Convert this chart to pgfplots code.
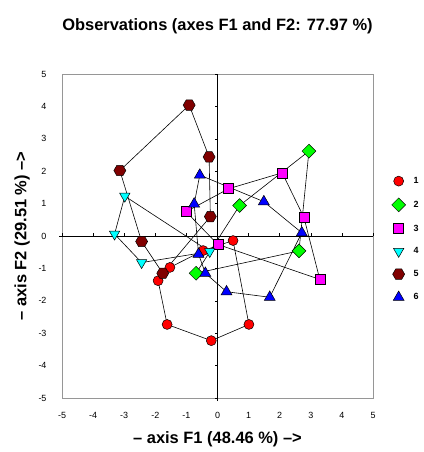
\documentclass[border=0pt]{standalone}
\usepackage{fontspec}
\setmainfont{Liberation Sans}
\usepackage{pgfplots}
\usepackage{pgfplotstable}
\pgfplotsset{compat=1.18}
\usetikzlibrary{plotmarks}

% filled hexagon with flat top and bottom
\pgfdeclareplotmark{hexagon*}{%
  \pgfpathmoveto{\pgfqpointpolar{0}{\pgfplotmarksize}}%
  \pgfpathlineto{\pgfqpointpolar{60}{\pgfplotmarksize}}%
  \pgfpathlineto{\pgfqpointpolar{120}{\pgfplotmarksize}}%
  \pgfpathlineto{\pgfqpointpolar{180}{\pgfplotmarksize}}%
  \pgfpathlineto{\pgfqpointpolar{240}{\pgfplotmarksize}}%
  \pgfpathlineto{\pgfqpointpolar{300}{\pgfplotmarksize}}%
  \pgfpathclose\pgfusepathqfillstroke}

\definecolor{gA}{RGB}{255,0,0}
\definecolor{gB}{RGB}{0,255,0}
\definecolor{gC}{RGB}{255,0,255}
\definecolor{gD}{RGB}{0,255,255}
\definecolor{gE}{RGB}{128,0,0}
\definecolor{gF}{RGB}{0,0,255}
\definecolor{framegray}{RGB}{150,150,150}

% observations of each class, listed along the convex hull
\pgfplotstableread{
x y
-0.46 -0.45
0.50 -0.14
1.01 -2.73
-0.20 -3.23
-1.62 -2.73
-1.91 -1.38
-1.53 -0.97
}\grpA
\pgfplotstableread{
x y
0.71 0.94
2.94 2.62
2.62 -0.46
-0.69 -1.15
}\grpB
\pgfplotstableread{
x y
-1.01 0.75
0.36 1.46
2.08 1.95
2.78 0.57
3.29 -1.34
0.01 -0.26
}\grpC
\pgfplotstableread{
x y
-2.98 1.23
-0.25 -0.48
-2.44 -0.82
-3.31 0.06
}\grpD
\pgfplotstableread{
x y
-0.91 4.04
-0.27 2.44
-0.23 0.60
-1.76 -1.15
-2.44 -0.17
-3.14 2.02
}\grpE
\pgfplotstableread{
x y
-0.57 1.88
1.49 1.06
2.71 0.10
1.68 -1.89
0.29 -1.72
-0.39 -1.15
-0.61 -0.56
-0.75 0.99
}\grpF

\begin{document}
\begin{tikzpicture}
\path[use as bounding box] (0,0) rectangle (424bp,452bp);
\begin{axis}[
  at={(62bp,54bp)}, anchor=south west,
  width=311bp, height=324bp, scale only axis,
  xmin=-5, xmax=5, ymin=-5, ymax=5,
  xtick={-5,...,5}, ytick={-5,...,5},
  major tick length=0pt,
  axis line style={draw=framegray, line width=0.6pt},
  tick label style={font=\fontsize{9}{10}\selectfont},
  /pgf/number format/assume math mode=true,
  xticklabel style={yshift=-11bp},
  yticklabel style={xshift=-12bp},
  title={Observations (axes F1 and F2: 77.97 \%)},
  title style={font=\bfseries\fontsize{16.5}{18}\selectfont, at={(axis description cs:0.5,1)}, anchor=center, yshift=42bp},
  xlabel={-- axis F1 (48.46 \%) -->},
  ylabel={-- axis F2 (29.51 \%) -->},
  xlabel style={font=\bfseries\fontsize{16.5}{18}\selectfont, at={(axis description cs:0.5,0)}, anchor=center, yshift=-41bp},
  ylabel style={font=\bfseries\fontsize{16.5}{18}\selectfont, at={(axis description cs:-0.1286,0.5)}, anchor=center},
  legend style={draw=none, fill=none, at={(axis description cs:1.05,0.49)}, anchor=west,
    font=\bfseries\fontsize{9}{10}\selectfont, row sep=11bp, column sep=6bp},
  legend cell align=left,
  clip=false,
]
% axes through the origin, with their ticks
\draw[black, line width=0.6pt] ([xshift=-3bp]axis cs:-5,0) -- (axis cs:5,0);
\draw[black, line width=0.6pt] ([yshift=-3bp]axis cs:0,-5) -- (axis cs:0,5);
\pgfplotsinvokeforeach{-5,-4,-3,-2,-1,1,2,3,4,5}{
  \draw[black, line width=0.5pt] (axis cs:#1,0) -- ([yshift=3bp]axis cs:#1,0);
  \draw[black, line width=0.5pt] (axis cs:0,#1) -- ([xshift=-3bp]axis cs:0,#1);
}

% convex hulls of the classes
\addplot[black, line width=0.6pt, forget plot] table {\grpA} -- cycle;
\addplot[black, line width=0.6pt, forget plot] table {\grpB} -- cycle;
\addplot[black, line width=0.6pt, forget plot] table {\grpC} -- cycle;
\addplot[black, line width=0.6pt, forget plot] table {\grpD} -- cycle;
\addplot[black, line width=0.6pt, forget plot] table {\grpE} -- cycle;
\addplot[black, line width=0.6pt, forget plot] table {\grpF} -- cycle;

% observations
\addplot[only marks, mark=*, mark size=5bp, mark options={fill=gA, draw=black, line width=0.5pt}] table {\grpA};
\addplot[only marks, mark=square*, mark size=4.9bp, mark options={rotate=45, fill=gB, draw=black, line width=0.5pt}] table {\grpB};
\addplot[only marks, mark=square*, mark size=5bp, mark options={fill=gC, draw=black, line width=0.5pt}] table {\grpC};
\addplot[only marks, mark=triangle*, mark size=6bp, mark options={rotate=180, fill=gD, draw=black, line width=0.5pt}] table {\grpD};
\addplot[only marks, mark=hexagon*, mark size=6bp, mark options={fill=gE, draw=black, line width=0.5pt}] table {\grpE};
\addplot[only marks, mark=triangle*, mark size=6.3bp, mark options={fill=gF, draw=black, line width=0.5pt}] table {\grpF};
\legend{1,2,3,4,5,6}
\end{axis}
\end{tikzpicture}
\end{document}
